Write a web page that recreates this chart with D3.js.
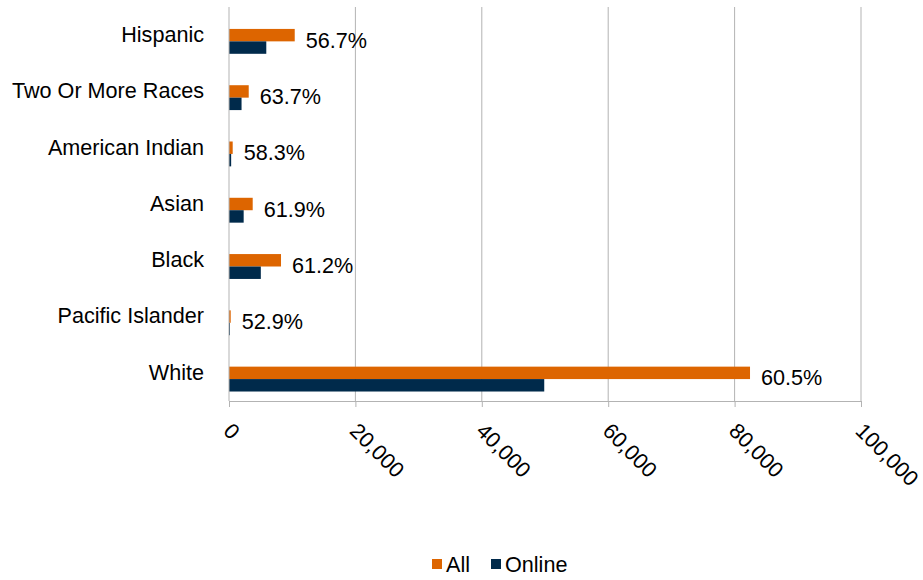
<!DOCTYPE html>
<html>
<head>
<meta charset="utf-8">
<script src="https://cdn.jsdelivr.net/npm/d3@7"></script>
<style>
  body { margin: 0; background: #fff; }
  svg text { font-family: "Liberation Sans", Arial, sans-serif; fill: #000; }
</style>
</head>
<body>
<div id="chart"></div>
<script>
const categories = [
  "Hispanic",
  "Two Or More Races",
  "American Indian",
  "Asian",
  "Black",
  "Pacific Islander",
  "White"
];
const allValues = [10400, 3120, 585, 3750, 8230, 270, 82440];
const onlineValues = [5900, 1985, 341, 2320, 5035, 143, 49880];
const pctLabels = ["56.7%", "63.7%", "58.3%", "61.9%", "61.2%", "52.9%", "60.5%"];
const seriesNames = ["All", "Online"];
const xTicks = [0, 20000, 40000, 60000, 80000, 100000];

const colors = { "All": "#dd6500", "Online": "#002a4b" };
const fontSize = "21.6px";

const width = 923;
const height = 580;
const plot = { left: 229, right: 861, top: 7, bottom: 401 };

const svg = d3.select("#chart")
  .append("svg")
  .attr("width", width)
  .attr("height", height);

const x = d3.scaleLinear()
  .domain([0, 100000])
  .range([plot.left, plot.right]);

const y = d3.scaleBand()
  .domain(categories)
  .range([plot.top, plot.bottom])
  .paddingInner(0.337)
  .paddingOuter(0.1685);

// three slots per category: first one is an empty (hidden) series
const ySub = d3.scaleBand()
  .domain(["hidden", ...seriesNames])
  .range([0, y.bandwidth()]);

const table = categories.map((c, i) => ({
  cat: c,
  All: allValues[i],
  Online: onlineValues[i],
  pct: pctLabels[i]
}));

// gridlines
svg.append("g")
  .selectAll("line")
  .data(xTicks.slice(1))
  .enter()
  .append("line")
  .attr("x1", d => x(d)).attr("x2", d => x(d))
  .attr("y1", plot.top).attr("y2", plot.bottom)
  .attr("stroke", "#b3b3b3")
  .attr("stroke-width", 1);

// bars
const groups = svg.append("g")
  .selectAll("g")
  .data(table)
  .enter()
  .append("g")
  .attr("transform", d => `translate(0,${y(d.cat)})`);

groups.selectAll("rect")
  .data(d => seriesNames.map(k => ({ key: k, value: d[k] })))
  .enter()
  .append("rect")
  .attr("x", x(0))
  .attr("y", d => ySub(d.key))
  .attr("width", d => x(d.value) - x(0))
  .attr("height", ySub.bandwidth())
  .attr("fill", d => colors[d.key]);

// percentage labels
svg.append("g")
  .selectAll("text")
  .data(table)
  .enter()
  .append("text")
  .attr("x", d => x(d.All) + 11)
  .attr("y", d => y(d.cat) + y.bandwidth() / 2 + 5)
  .attr("dominant-baseline", "central")
  .style("font-size", fontSize)
  .text(d => d.pct);

// left axis
const yAxis = svg.append("g")
  .attr("transform", `translate(${plot.left},0)`)
  .call(d3.axisLeft(y).tickSize(0).tickPadding(25));
yAxis.select(".domain")
  .attr("stroke", "#b3b3b3")
  .attr("d", `M0,${plot.top}V${plot.bottom}`);
yAxis.selectAll("text")
  .style("font-size", fontSize)
  .style("font-family", "'Liberation Sans', Arial, sans-serif");

// bottom axis
const xAxis = svg.append("g")
  .attr("transform", `translate(0,${plot.bottom})`)
  .call(d3.axisBottom(x).tickValues(xTicks).tickFormat(d3.format(",")).tickSizeInner(6).tickSizeOuter(0));
xAxis.select(".domain").attr("stroke", "#b3b3b3");
xAxis.selectAll(".tick line").attr("stroke", "#b3b3b3");
xAxis.selectAll("text")
  .attr("y", 0)
  .attr("dy", 0)
  .attr("transform", "translate(4,20) rotate(45)")
  .attr("dominant-baseline", "hanging")
  .style("text-anchor", "start")
  .style("font-size", fontSize)
  .style("font-family", "'Liberation Sans', Arial, sans-serif");

// legend
const legend = svg.append("g").attr("transform", "translate(432,559)");
const legendX = [0, 59];
seriesNames.forEach((s, i) => {
  legend.append("rect")
    .attr("x", legendX[i]).attr("y", 0)
    .attr("width", 10).attr("height", 10)
    .attr("fill", colors[s]);
  legend.append("text")
    .attr("x", legendX[i] + 14).attr("y", 13)
    .style("font-size", fontSize)
    .text(s);
});
</script>
</body>
</html>
